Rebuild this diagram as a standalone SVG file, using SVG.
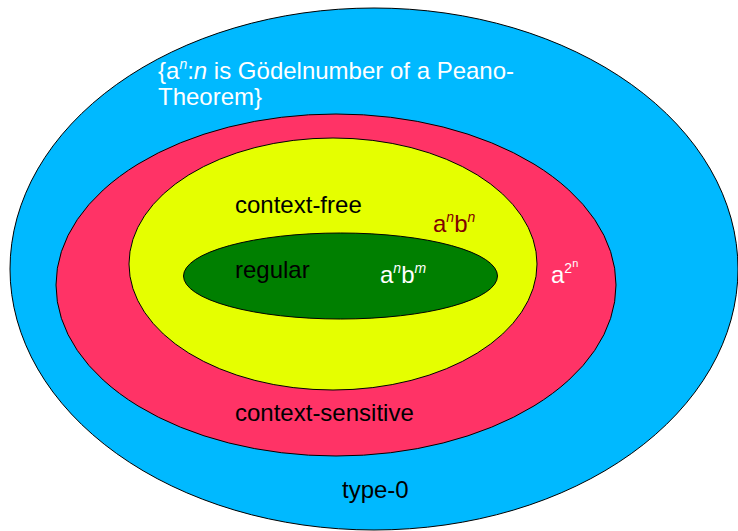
<svg xmlns="http://www.w3.org/2000/svg" width="738" height="531" viewBox="0 0 738 531">
<style>
.e{stroke:#000;stroke-width:1}
text{font-family:"Liberation Sans",Arial,sans-serif;font-size:24px}
.sup{font-size:14px}
.it{font-style:italic}
</style>
<rect width="738" height="531" fill="#fff"/>
<g id="type0">
<ellipse class="e" cx="374" cy="269" rx="364" ry="261" fill="#00b9ff"/>
<text x="158" y="79" fill="#fff">{a<tspan class="sup it" dy="-10">n</tspan><tspan dy="10">:</tspan><tspan class="it">n</tspan> is Gödelnumber of a Peano-</text>
<text x="158" y="105" fill="#fff">Theorem}</text>
<text x="342" y="498" fill="#000">type-0</text>
</g>
<g id="context-sensitive">
<ellipse class="e" cx="336" cy="285" rx="280" ry="171" fill="#ff3366"/>
<text x="235" y="421" fill="#000">context-sensitive</text>
<text x="551" y="283" fill="#fff">a<tspan class="sup" dy="-10">2</tspan><tspan font-size="11px" dy="-6">n</tspan></text>
</g>
<g id="context-free">
<ellipse class="e" cx="333" cy="264" rx="204" ry="126" fill="#e5ff00"/>
<text x="235" y="213" fill="#000">context-free</text>
<text x="433" y="232" fill="#800000">a<tspan class="sup it" dy="-10">n</tspan><tspan dy="10">b</tspan><tspan class="sup it" dy="-10">n</tspan></text>
</g>
<g id="regular">
<ellipse class="e" cx="340.5" cy="276" rx="157" ry="43" fill="#007f00"/>
<text x="235" y="278" fill="#000">regular</text>
<text x="380" y="283" fill="#fff">a<tspan class="sup it" dy="-10">n</tspan><tspan dy="10">b</tspan><tspan class="sup it" dy="-10">m</tspan></text>
</g>
</svg>
